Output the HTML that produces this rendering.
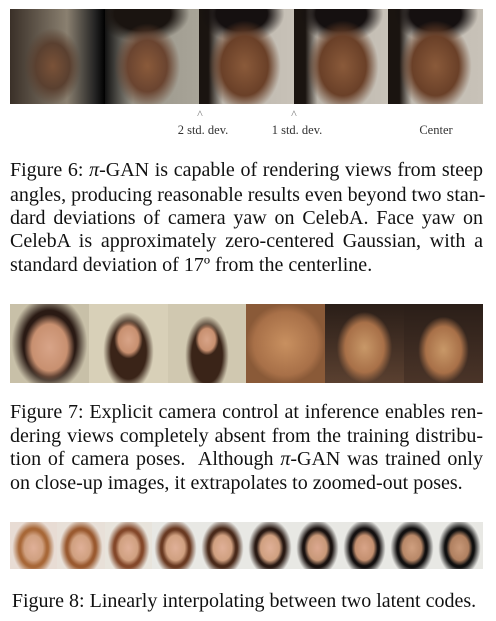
<!DOCTYPE html>
<html><head><meta charset="utf-8">
<style>
html,body{margin:0;padding:0;background:#fff;}
body{width:496px;height:621px;position:relative;overflow:hidden;font-family:"Liberation Serif",serif;color:#111;}
.p{position:absolute;}
.ln{position:absolute;left:10px;width:473px;font-size:20px;line-height:18px;height:18px;white-space:nowrap;text-align:justify;text-align-last:justify;}
.ln.last{text-align-last:left;}
.lab{position:absolute;font-size:12.5px;color:#333;transform:translateX(-50%);white-space:nowrap;}
.car{position:absolute;font-size:12px;color:#777;transform:translateX(-50%);}
</style></head><body>

<div class="p" style="left:10px;top:9px;width:473px;height:95px;display:flex;">
 <div style="flex:1;background:radial-gradient(ellipse 30% 40% at 45% 60%,#7a5238 0%,#5a4030 60%,transparent 100%),linear-gradient(90deg,#3a3028,#8a8070 60%,#222 90%,#000);"></div>
 <div style="flex:1;background:radial-gradient(ellipse 35% 45% at 45% 60%,#8a5a3a 0%,#6a4430 60%,transparent 100%),radial-gradient(ellipse 50% 30% at 40% 5%,#1a1410 60%,transparent 100%),linear-gradient(90deg,#111,#9a968a 30%,#a8a498);"></div>
 <div style="flex:1;background:radial-gradient(ellipse 38% 48% at 48% 60%,#8a5a3a 0%,#6a4028 65%,transparent 100%),radial-gradient(ellipse 45% 30% at 45% 5%,#151010 60%,transparent 100%),linear-gradient(90deg,#1a1410 10%,#bab4aa 25%,#c8c2b8);"></div>
 <div style="flex:1;background:radial-gradient(ellipse 38% 48% at 52% 60%,#8a5a3a 0%,#6a4028 65%,transparent 100%),radial-gradient(ellipse 45% 30% at 50% 5%,#151010 60%,transparent 100%),linear-gradient(90deg,#1a1410 12%,#bab4aa 25%,#c8c2b8);"></div>
 <div style="flex:1;background:radial-gradient(ellipse 38% 48% at 50% 60%,#8a5a3a 0%,#6a4028 65%,transparent 100%),radial-gradient(ellipse 45% 30% at 50% 5%,#151010 60%,transparent 100%),linear-gradient(90deg,#1a1410 12%,#c0bab0 25%,#c8c2b8);"></div>
</div>
<div class="car" style="left:200px;top:107px;">^</div>
<div class="car" style="left:294px;top:107px;">^</div>
<div class="lab" style="left:203px;top:123px;">2 std. dev.</div>
<div class="lab" style="left:297px;top:123px;">1 std. dev.</div>
<div class="lab" style="left:436px;top:123px;">Center</div>

<div>
<div class="ln" style="top:161px;">Figure 6: <i>π</i>-GAN is capable of rendering views from steep</div>
<div class="ln" style="top:186px;">angles, producing reasonable results even beyond two stan-</div>
<div class="ln" style="top:209px;">dard deviations of camera yaw on CelebA. Face yaw on</div>
<div class="ln" style="top:232px;">CelebA is approximately zero-centered Gaussian, with a</div>
<div class="ln last" style="top:256px;">standard deviation of 17º from the centerline.</div>
</div>

<div class="p" style="left:10px;top:304px;width:473px;height:79px;display:flex;">
 <div style="flex:1;background:radial-gradient(ellipse 32% 42% at 50% 55%,#d8a488 0%,#c89070 70%,transparent 100%),radial-gradient(ellipse 48% 60% at 50% 50%,#2a1a14 70%,transparent 100%),#c8c0a8;"></div>
 <div style="flex:1;background:radial-gradient(ellipse 18% 24% at 50% 45%,#d8a488 0%,#c89070 70%,transparent 100%),radial-gradient(ellipse 32% 50% at 50% 60%,#3a2418 70%,transparent 100%),#d8d0b8;"></div>
 <div style="flex:1;background:radial-gradient(ellipse 15% 20% at 50% 45%,#d8a488 0%,#c89070 70%,transparent 100%),radial-gradient(ellipse 28% 50% at 50% 65%,#3a2418 70%,transparent 100%),#d0c8b0;"></div>
 <div style="flex:1;background:radial-gradient(ellipse 50% 50% at 50% 50%,#c89060 0%,#a87048 80%,#8a5a38 100%);"></div>
 <div style="flex:1;background:radial-gradient(ellipse 35% 45% at 50% 55%,#c89868 0%,#a87048 70%,transparent 100%),linear-gradient(#2a1e18,#5a4030);"></div>
 <div style="flex:1;background:radial-gradient(ellipse 32% 42% at 50% 58%,#c89868 0%,#a87048 70%,transparent 100%),linear-gradient(#2a1e18,#4a3428);"></div>
</div>

<div>
<div class="ln" style="top:403px;">Figure 7: Explicit camera control at inference enables ren-</div>
<div class="ln" style="top:427px;">dering views completely absent from the training distribu-</div>
<div class="ln" style="top:450px;">tion of camera poses.&nbsp; Although <i>π</i>-GAN was trained only</div>
<div class="ln last" style="top:474px;">on close-up images, it extrapolates to zoomed-out poses.</div>
</div>

<div class="p" style="left:10px;top:522px;width:473px;height:47px;display:flex;">
 <div style="flex:1;background:radial-gradient(ellipse 28% 38% at 50% 55%,#e0b098 0%,#d0a080 70%,transparent 100%),radial-gradient(ellipse 45% 60% at 50% 55%,#a86838 70%,transparent 100%),#e8dcd4;"></div>
 <div style="flex:1;background:radial-gradient(ellipse 28% 38% at 50% 55%,#e0b098 0%,#d0a080 70%,transparent 100%),radial-gradient(ellipse 45% 60% at 50% 55%,#9a5a30 70%,transparent 100%),#e8e0d8;"></div>
 <div style="flex:1;background:radial-gradient(ellipse 28% 38% at 50% 55%,#e0b098 0%,#d0a080 70%,transparent 100%),radial-gradient(ellipse 45% 60% at 50% 55%,#84482a 70%,transparent 100%),#e8e4dc;"></div>
 <div style="flex:1;background:radial-gradient(ellipse 28% 38% at 50% 55%,#e0b098 0%,#d0a080 70%,transparent 100%),radial-gradient(ellipse 45% 60% at 50% 55%,#6a3a22 70%,transparent 100%),#e8e8e4;"></div>
 <div style="flex:1;background:radial-gradient(ellipse 28% 38% at 50% 55%,#e0b098 0%,#d0a080 70%,transparent 100%),radial-gradient(ellipse 45% 60% at 50% 55%,#4a2a1a 70%,transparent 100%),#e8e8e4;"></div>
 <div style="flex:1;background:radial-gradient(ellipse 28% 38% at 50% 55%,#e0b098 0%,#d0a080 70%,transparent 100%),radial-gradient(ellipse 45% 60% at 50% 55%,#2a1a14 70%,transparent 100%),#e8e8e4;"></div>
 <div style="flex:1;background:radial-gradient(ellipse 28% 38% at 50% 55%,#dca890 0%,#c89878 70%,transparent 100%),radial-gradient(ellipse 45% 60% at 50% 55%,#1a1210 70%,transparent 100%),#e8e8e4;"></div>
 <div style="flex:1;background:radial-gradient(ellipse 28% 38% at 50% 55%,#d8a488 0%,#c49070 70%,transparent 100%),radial-gradient(ellipse 45% 60% at 50% 55%,#141010 70%,transparent 100%),#e8e8e4;"></div>
 <div style="flex:1;background:radial-gradient(ellipse 28% 38% at 50% 55%,#d0a080 0%,#b88868 70%,transparent 100%),radial-gradient(ellipse 45% 60% at 50% 55%,#121010 70%,transparent 100%),#e8e8e4;"></div>
 <div style="flex:1;background:radial-gradient(ellipse 28% 38% at 50% 55%,#c89878 0%,#b08060 70%,transparent 100%),radial-gradient(ellipse 45% 60% at 50% 55%,#101010 70%,transparent 100%),#e8e8e4;"></div>
</div>

<div style="position:absolute;left:0;width:488px;top:592px;font-size:20px;line-height:18px;text-align:center;white-space:nowrap;">Figure 8: Linearly interpolating between two latent codes.</div>

</body></html>
